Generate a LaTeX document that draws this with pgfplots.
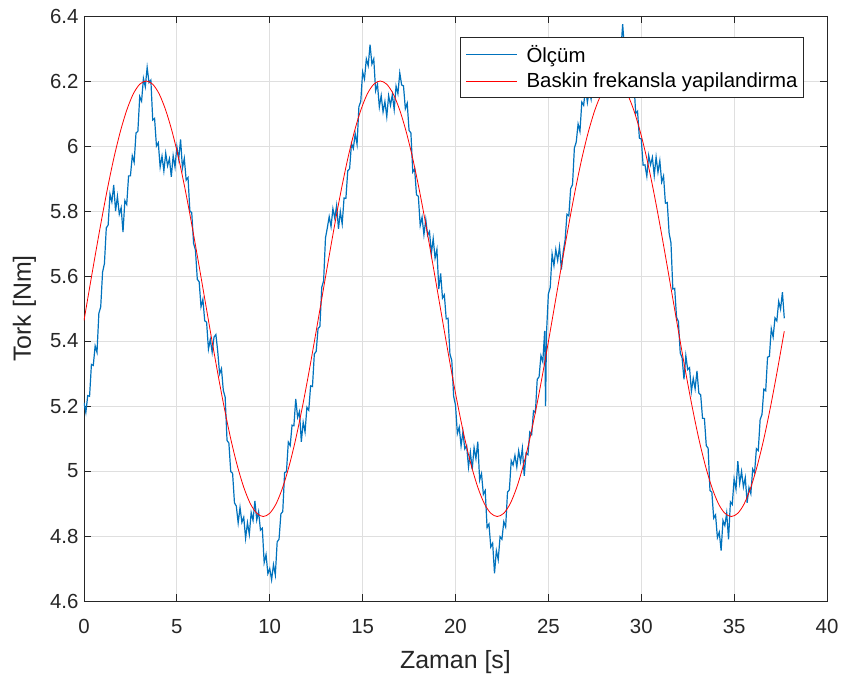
\documentclass[border=0pt]{standalone}
\usepackage{pgfplots}
\pgfplotsset{compat=1.18}
\usepackage{pgfplotstable}
\usepackage{fontspec}
\setmainfont{Liberation Sans}
\definecolor{mblue}{rgb}{0,0.447,0.741}
\definecolor{axgray}{rgb}{0.15,0.15,0.15}
\definecolor{gridgray}{HTML}{DFDFDF}

\pgfplotstableread{
t y
0.0 5.210
0.1 5.180
0.2 5.232
0.3 5.230
0.4 5.328
0.5 5.325
0.6 5.385
0.7 5.365
0.8 5.485
0.9 5.505
1.0 5.612
1.1 5.638
1.2 5.748
1.3 5.757
1.4 5.852
1.5 5.828
1.6 5.880
1.7 5.800
1.8 5.845
1.9 5.790
2.0 5.810
2.1 5.735
2.2 5.832
2.3 5.820
2.4 5.908
2.5 5.908
2.6 5.970
2.7 5.950
2.8 6.040
2.9 6.045
3.0 6.152
3.1 6.138
3.2 6.208
3.3 6.182
3.4 6.242
3.5 6.195
3.6 6.203
3.7 6.080
3.8 6.085
3.9 6.000
4.0 6.010
4.1 5.935
4.2 5.969
4.3 5.923
4.4 5.978
4.5 5.939
4.6 5.961
4.7 5.905
4.8 5.970
4.9 5.935
5.0 5.998
5.1 5.960
5.2 6.020
5.3 5.932
5.4 5.962
5.5 5.895
5.6 5.903
5.7 5.800
5.8 5.795
5.9 5.700
6.0 5.680
6.1 5.590
6.2 5.582
6.3 5.505
6.4 5.528
6.5 5.462
6.6 5.458
6.7 5.375
6.8 5.405
6.9 5.365
7.0 5.412
7.1 5.420
7.2 5.368
7.3 5.299
7.4 5.315
7.5 5.248
7.6 5.227
7.7 5.094
7.8 5.086
7.9 4.998
8.0 4.993
8.1 4.902
8.2 4.892
8.3 4.840
8.4 4.888
8.5 4.842
8.6 4.858
8.7 4.793
8.8 4.841
8.9 4.805
9.0 4.872
9.1 4.848
9.2 4.908
9.3 4.849
9.4 4.875
9.5 4.818
9.6 4.824
9.7 4.718
9.8 4.743
9.9 4.684
10.0 4.700
10.1 4.665
10.2 4.712
10.3 4.680
10.4 4.782
10.5 4.790
10.6 4.868
10.7 4.875
10.8 4.995
10.9 4.998
11.0 5.089
11.1 5.078
11.2 5.141
11.3 5.139
11.4 5.222
11.5 5.165
11.6 5.183
11.7 5.090
11.8 5.150
11.9 5.120
12.0 5.196
12.1 5.187
12.2 5.262
12.3 5.260
12.4 5.360
12.5 5.368
12.6 5.438
12.7 5.445
12.8 5.565
12.9 5.585
13.0 5.717
13.1 5.748
13.2 5.783
13.3 5.752
13.4 5.807
13.5 5.778
13.6 5.817
13.7 5.745
13.8 5.798
13.9 5.760
14.0 5.840
14.1 5.839
14.2 5.924
14.3 5.930
14.4 6.008
14.5 5.992
14.6 6.038
14.7 6.005
14.8 6.121
14.9 6.137
15.0 6.228
15.1 6.206
15.2 6.268
15.3 6.247
15.4 6.312
15.5 6.252
15.6 6.268
15.7 6.170
15.8 6.190
15.9 6.120
16.0 6.155
16.1 6.105
16.2 6.137
16.3 6.090
16.4 6.155
16.5 6.125
16.6 6.158
16.7 6.112
16.8 6.184
16.9 6.161
17.0 6.225
17.1 6.188
17.2 6.185
17.3 6.115
17.4 6.132
17.5 6.048
17.6 6.040
17.7 5.920
17.8 5.930
17.9 5.850
18.0 5.845
18.1 5.755
18.2 5.781
18.3 5.727
18.4 5.774
18.5 5.725
18.6 5.737
18.7 5.669
18.8 5.715
18.9 5.655
19.0 5.682
19.1 5.560
19.2 5.608
19.3 5.532
19.4 5.542
19.5 5.468
19.6 5.470
19.7 5.360
19.8 5.340
19.9 5.230
20.0 5.203
20.1 5.115
20.2 5.135
20.3 5.077
20.4 5.120
20.5 5.068
20.6 5.078
20.7 5.012
20.8 5.058
20.9 5.005
21.0 5.072
21.1 5.038
21.2 5.090
21.3 4.972
21.4 4.992
21.5 4.928
21.6 4.940
21.7 4.826
21.8 4.837
21.9 4.766
22.0 4.778
22.1 4.685
22.2 4.755
22.3 4.727
22.4 4.798
22.5 4.790
22.6 4.844
22.7 4.828
22.8 4.935
22.9 4.942
23.0 5.032
23.1 5.018
23.2 5.048
23.3 5.012
23.4 5.062
23.5 5.028
23.6 5.070
23.7 4.985
23.8 5.055
23.9 5.050
24.0 5.120
24.1 5.112
24.2 5.185
24.3 5.180
24.4 5.282
24.5 5.290
24.6 5.355
24.7 5.336
24.8 5.431
24.85 5.200
24.9 5.425
25.0 5.545
25.1 5.565
25.2 5.668
25.3 5.632
25.4 5.682
25.5 5.648
25.6 5.690
25.7 5.620
25.8 5.675
25.9 5.710
26.0 5.790
26.1 5.785
26.2 5.869
26.3 5.881
26.4 5.994
26.5 6.012
26.6 6.068
26.7 6.045
26.8 6.135
26.9 6.125
27.0 6.180
27.1 6.134
27.2 6.172
27.3 6.144
27.4 6.202
27.5 6.172
27.6 6.217
27.7 6.151
27.8 6.210
27.9 6.178
28.0 6.223
28.1 6.183
28.2 6.225
28.3 6.189
28.4 6.252
28.5 6.221
28.6 6.253
28.7 6.205
28.8 6.298
28.9 6.292
29.0 6.375
29.1 6.293
29.2 6.298
29.3 6.237
29.4 6.262
29.5 6.195
29.6 6.203
29.7 6.100
29.8 6.107
29.9 6.024
30.0 6.022
30.1 5.941
30.2 5.942
30.3 5.907
30.4 5.971
30.5 5.942
30.6 5.965
30.7 5.909
30.8 5.966
30.9 5.919
31.0 5.955
31.1 5.889
31.2 5.908
31.3 5.824
31.4 5.826
31.5 5.732
31.6 5.702
31.7 5.560
31.8 5.562
31.9 5.473
32.0 5.460
32.1 5.363
32.2 5.348
32.3 5.282
32.4 5.355
32.5 5.312
32.6 5.318
32.7 5.245
32.8 5.285
32.9 5.253
33.0 5.308
33.1 5.240
33.2 5.234
33.3 5.162
33.4 5.162
33.5 5.078
33.6 5.070
33.7 4.940
33.8 4.935
33.9 4.855
34.0 4.865
34.1 4.795
34.2 4.812
34.3 4.755
34.4 4.848
34.5 4.832
34.6 4.871
34.7 4.790
34.8 4.905
34.9 4.897
35.0 4.976
35.1 4.944
35.2 5.030
35.3 4.962
35.4 4.999
35.5 4.951
35.6 4.980
35.7 4.902
35.8 4.949
35.9 4.930
36.0 5.006
36.1 4.995
36.2 5.069
36.3 5.063
36.4 5.158
36.5 5.174
36.6 5.252
36.7 5.247
36.8 5.350
36.9 5.353
37.0 5.438
37.1 5.412
37.2 5.471
37.3 5.462
37.4 5.522
37.5 5.498
37.6 5.550
37.7 5.470
}\olcum

\pgfplotstableread{
t y
0.0 5.463
0.2 5.530
0.55 5.646
0.9 5.759
1.25 5.865
1.6 5.961
1.95 6.043
2.3 6.110
2.65 6.160
3.0 6.190
3.35 6.200
3.7 6.190
4.05 6.160
4.4 6.110
4.75 6.043
5.1 5.961
5.45 5.865
5.8 5.759
6.15 5.646
6.5 5.530
6.85 5.414
7.2 5.301
7.55 5.195
7.9 5.099
8.25 5.017
8.6 4.950
8.95 4.900
9.3 4.870
9.65 4.860
10.0 4.870
10.35 4.900
10.7 4.950
11.05 5.017
11.4 5.099
11.75 5.195
12.1 5.301
12.45 5.414
12.8 5.530
13.15 5.646
13.5 5.759
13.85 5.865
14.2 5.961
14.55 6.043
14.9 6.110
15.25 6.160
15.6 6.190
15.95 6.200
16.3 6.190
16.65 6.160
17.0 6.110
17.35 6.043
17.7 5.961
18.05 5.865
18.4 5.759
18.75 5.646
19.1 5.530
19.45 5.414
19.8 5.301
20.15 5.195
20.5 5.099
20.85 5.017
21.2 4.950
21.55 4.900
21.9 4.870
22.25 4.860
22.6 4.870
22.95 4.900
23.3 4.950
23.65 5.017
24.0 5.099
24.35 5.195
24.7 5.301
25.05 5.414
25.4 5.530
25.75 5.646
26.1 5.759
26.45 5.865
26.8 5.961
27.15 6.043
27.5 6.110
27.85 6.160
28.2 6.190
28.55 6.200
28.9 6.190
29.25 6.160
29.6 6.110
29.95 6.043
30.3 5.961
30.65 5.865
31.0 5.759
31.35 5.646
31.7 5.530
32.05 5.414
32.4 5.301
32.75 5.195
33.1 5.099
33.45 5.017
33.8 4.950
34.15 4.900
34.5 4.870
34.85 4.860
35.2 4.870
35.55 4.900
35.9 4.950
36.25 5.017
36.6 5.099
36.95 5.195
37.3 5.301
37.65 5.414
37.7 5.430
}\fit

\begin{document}
\begin{tikzpicture}
\begin{axis}[
  scale only axis,
  width=743bp, height=585bp,
  xmin=0, xmax=40, ymin=4.6, ymax=6.4,
  xtick={0,5,10,15,20,25,30,35,40},
  ytick={4.6,4.8,5,5.2,5.4,5.6,5.8,6,6.2,6.4},
  /pgf/number format/assume math mode=true,
  /pgf/number format/fixed,
  grid=major,
  major grid style={gridgray, line width=0.75bp},
  axis line style={axgray, line width=0.75bp},
  tick style={axgray, line width=0.75bp},
  major tick length=7bp,
  tick align=inside,
  xtick pos=both, ytick pos=both,
  ticklabel style={font=\fontsize{20.4bp}{24bp}\selectfont, text=axgray},
  xticklabel style={yshift=-15bp},
  yticklabel style={xshift=-2bp},
  xlabel={Zaman [s]},
  ylabel={Tork [Nm]},
  label style={font=\fontsize{24.9bp}{30bp}\selectfont, text=axgray},
  xlabel style={at={([yshift=-67bp]axis description cs:0.5,0)}, anchor=base},
  ylabel style={at={([xshift=-53bp]axis description cs:0,0.5)}, anchor=base},
  legend style={at={(axis description cs:0.969,0.964)}, anchor=north east,
    draw=axgray, line width=0.75bp, fill=white,
    font=\fontsize{20.4bp}{24bp}\selectfont, text=black,
    inner xsep=4bp, inner ysep=6bp, row sep=5bp},
  legend cell align=left,
  legend image code/.code={\path (-1bp,0bp); \draw[#1] (0bp,0bp) -- (51bp,0bp); \path (58bp,0bp);},
]
\addplot[mblue, line width=1.2bp] table[x=t, y=y] {\olcum};
\addlegendentry{Ölçüm}
\addplot[red, line width=0.8bp, smooth] table[x=t, y=y] {\fit};
\addlegendentry{Baskin frekansla yapilandirma}
\end{axis}
\path ([xshift=-84bp,yshift=-75bp]current axis.south west) rectangle ([xshift=15bp,yshift=16bp]current axis.north east);
\end{tikzpicture}
\end{document}
